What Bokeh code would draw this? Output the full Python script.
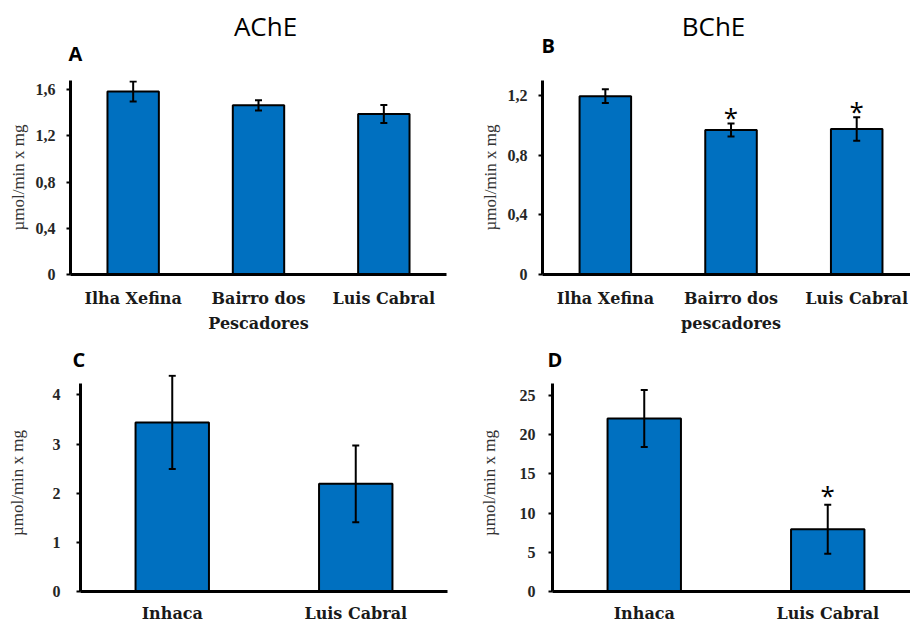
from bokeh.plotting import figure
from bokeh.models import Range1d, FixedTicker, Whisker, TeeHead, ColumnDataSource
from bokeh.layouts import column, row
from bokeh.embed import file_html
from bokeh.resources import INLINE
from bokeh.core.properties import value

# ---------------- data ----------------
sites_A = ["Ilha Xefina", "Bairro dos\nPescadores", "Luis Cabral"]
ache_A = [1.585, 1.465, 1.39]
ache_A_err = [0.087, 0.045, 0.077]
signif_A = [False, False, False]
ticks_A = [0, 0.4, 0.8, 1.2, 1.6]
tick_labels_A = ["0", "0,4", "0,8", "1,2", "1,6"]

sites_B = ["Ilha Xefina", "Bairro dos\npescadores", "Luis Cabral"]
bche_B = [1.195, 0.968, 0.975]
bche_B_err = [0.046, 0.044, 0.078]
signif_B = [False, True, True]
ticks_B = [0, 0.4, 0.8, 1.2]
tick_labels_B = ["0", "0,4", "0,8", "1,2"]

sites_C = ["Inhaca", "Luis Cabral"]
ache_C = [3.44, 2.19]
ache_C_err = [0.95, 0.78]
signif_C = [False, False]
ticks_C = [0, 1, 2, 3, 4]
tick_labels_C = ["0", "1", "2", "3", "4"]

sites_D = ["Inhaca", "Luis Cabral"]
bche_D = [22.07, 7.95]
bche_D_err = [3.64, 3.12]
signif_D = [False, True]
ticks_D = [0, 5, 10, 15, 20, 25]
tick_labels_D = ["0", "5", "10", "15", "20", "25"]

y_label = "µmol/min x mg"
enzyme_titles = ["AChE", "BChE"]
panel_letters_top = ["A", "B"]
panel_letters_bottom = ["C", "D"]

BLUE = "#0070C0"
SANS = "Open Sans"
CAT_FONT = "DejaVu Serif"
TICK_FONT = "Liberation Serif"
YLAB_FONT = "serif"
PAGE_W = 910


def header(height, titles, title_x, title_y, letters, letter_x, letter_y):
    h = figure(width=PAGE_W, height=height, output_backend="svg",
               toolbar_location=None, tools="", title=None,
               x_range=Range1d(0, PAGE_W), y_range=Range1d(height, 0),
               x_axis_type=None, y_axis_type=None, min_border=0)
    h.outline_line_color = None
    h.grid.visible = False
    if titles:
        h.text(x=title_x, y=title_y, text=titles, text_font=value(SANS),
               text_font_size="26px", text_align="center",
               text_baseline="middle", text_color="black")
    h.text(x=letter_x, y=letter_y, text=letters, text_font=value(SANS),
           text_font_style="bold", text_font_size="20px", text_align="left",
           text_baseline="middle", text_color="black")
    return h


def panel(cats, vals, errs, signif, ticks, tick_labels, *, width, height,
          mb_left, mb_right, mb_top, mb_bottom, x_end, y_end, axis_top, bar_w,
          tick_standoff=11, ylab_standoff=5, xlab_standoff=14,
          xlab_lh=1.32, star_offset=-6):
    p = figure(width=width, height=height, output_backend="svg",
               toolbar_location=None, tools="", title=None,
               x_range=Range1d(0, x_end), y_range=Range1d(0, y_end),
               min_border_left=mb_left, min_border_right=mb_right,
               min_border_top=mb_top, min_border_bottom=mb_bottom)
    p.outline_line_color = None
    p.xgrid.visible = False
    p.ygrid.visible = False

    xs = [i + 0.5 for i in range(len(cats))]
    src = ColumnDataSource(dict(
        x=xs, top=vals,
        upper=[v + e for v, e in zip(vals, errs)],
        lower=[v - e for v, e in zip(vals, errs)],
    ))
    p.vbar(x="x", top="top", bottom=0, width=bar_w, source=src,
           fill_color=BLUE, line_color="black", line_width=2)
    w = Whisker(source=src, base="x", upper="upper", lower="lower",
                line_color="black", line_width=2, level="annotation",
                upper_head=TeeHead(size=7, line_color="black", line_width=2),
                lower_head=TeeHead(size=7, line_color="black", line_width=2))
    p.add_layout(w)

    sx = [x for x, s in zip(xs, signif) if s]
    sy = [v + e for v, e, s in zip(vals, errs, signif) if s]
    if sx:
        p.text(x=sx, y=sy, text=["*"] * len(sx), text_font=value(SANS),
               text_font_size="26px", text_align="center",
               text_baseline="middle", text_color="black",
               y_offset=star_offset)

    xa = p.xaxis[0]
    xa.ticker = FixedTicker(ticks=xs)
    xa.major_label_overrides = dict(zip(xs, cats))
    xa.major_tick_line_color = None
    xa.major_tick_out = 0
    xa.major_tick_in = 0
    xa.minor_tick_line_color = None
    xa.axis_line_width = 3
    xa.axis_line_color = "black"
    xa.major_label_text_font = CAT_FONT
    xa.major_label_text_font_style = "bold"
    xa.major_label_text_font_size = "16px"
    xa.major_label_text_color = "#1a1a1a"
    xa.major_label_text_line_height = xlab_lh
    xa.major_label_standoff = xlab_standoff

    ya = p.yaxis[0]
    ya.bounds = (0, axis_top)
    ya.ticker = FixedTicker(ticks=ticks)
    ya.major_label_overrides = dict(zip(ticks, tick_labels))
    ya.minor_tick_line_color = None
    ya.major_tick_in = 0
    ya.major_tick_out = 4
    ya.major_tick_line_width = 2
    ya.axis_line_width = 3
    ya.axis_line_color = "black"
    ya.major_label_text_font = TICK_FONT
    ya.major_label_text_font_style = "bold"
    ya.major_label_text_font_size = "16px"
    ya.major_label_text_color = "#262626"
    ya.major_label_standoff = tick_standoff
    ya.axis_label = y_label
    ya.axis_label_text_font = YLAB_FONT
    ya.axis_label_text_font_style = "normal"
    ya.axis_label_text_font_size = "17px"
    ya.axis_label_text_color = "#333333"
    ya.axis_label_standoff = ylab_standoff
    return p


# title / letter baselines sit ~0.39 em below the given y (middle anchor)
hdr_top = header(72, enzyme_titles, [265, 713], [25, 25],
                 panel_letters_top, [68, 541], [53.2, 44.9])

pA = panel(sites_A, ache_A, ache_A_err, signif_A, ticks_A, tick_labels_A,
           width=470, height=266, mb_left=70, mb_right=24, mb_top=8, mb_bottom=64,
           x_end=3, y_end=1.68, axis_top=1.68, bar_w=0.41,
           tick_standoff=11, ylab_standoff=5)

pB = panel(sites_B, bche_B, bche_B_err, signif_B, ticks_B, tick_labels_B,
           width=PAGE_W - 470, height=266, mb_left=72, mb_right=0, mb_top=8,
           mb_bottom=64, x_end=2.928, y_end=1.30, axis_top=1.30, bar_w=0.41,
           tick_standoff=11, ylab_standoff=5, star_offset=-6)

hdr_bot = header(34, None, None, None, panel_letters_bottom, [72, 547], [21.2, 21.2])

pC = panel(sites_C, ache_C, ache_C_err, signif_C, ticks_C, tick_labels_C,
           width=470, height=253, mb_left=80, mb_right=23, mb_top=2, mb_bottom=32,
           x_end=2, y_end=4.415, axis_top=4.24, bar_w=0.40,
           tick_standoff=16, ylab_standoff=23, xlab_standoff=12, xlab_lh=1.0)

pD = panel(sites_D, bche_D, bche_D_err, signif_D, ticks_D, tick_labels_D,
           width=PAGE_W - 470, height=253, mb_left=82, mb_right=0, mb_top=2,
           mb_bottom=32, x_end=1.951, y_end=27.7, axis_top=26.6, bar_w=0.40,
           tick_standoff=13, ylab_standoff=18, xlab_standoff=12, xlab_lh=1.0,
           star_offset=-10)

layout = column(hdr_top, row(pA, pB), hdr_bot, row(pC, pD))
open("out.html", "w").write(file_html(layout, INLINE))
